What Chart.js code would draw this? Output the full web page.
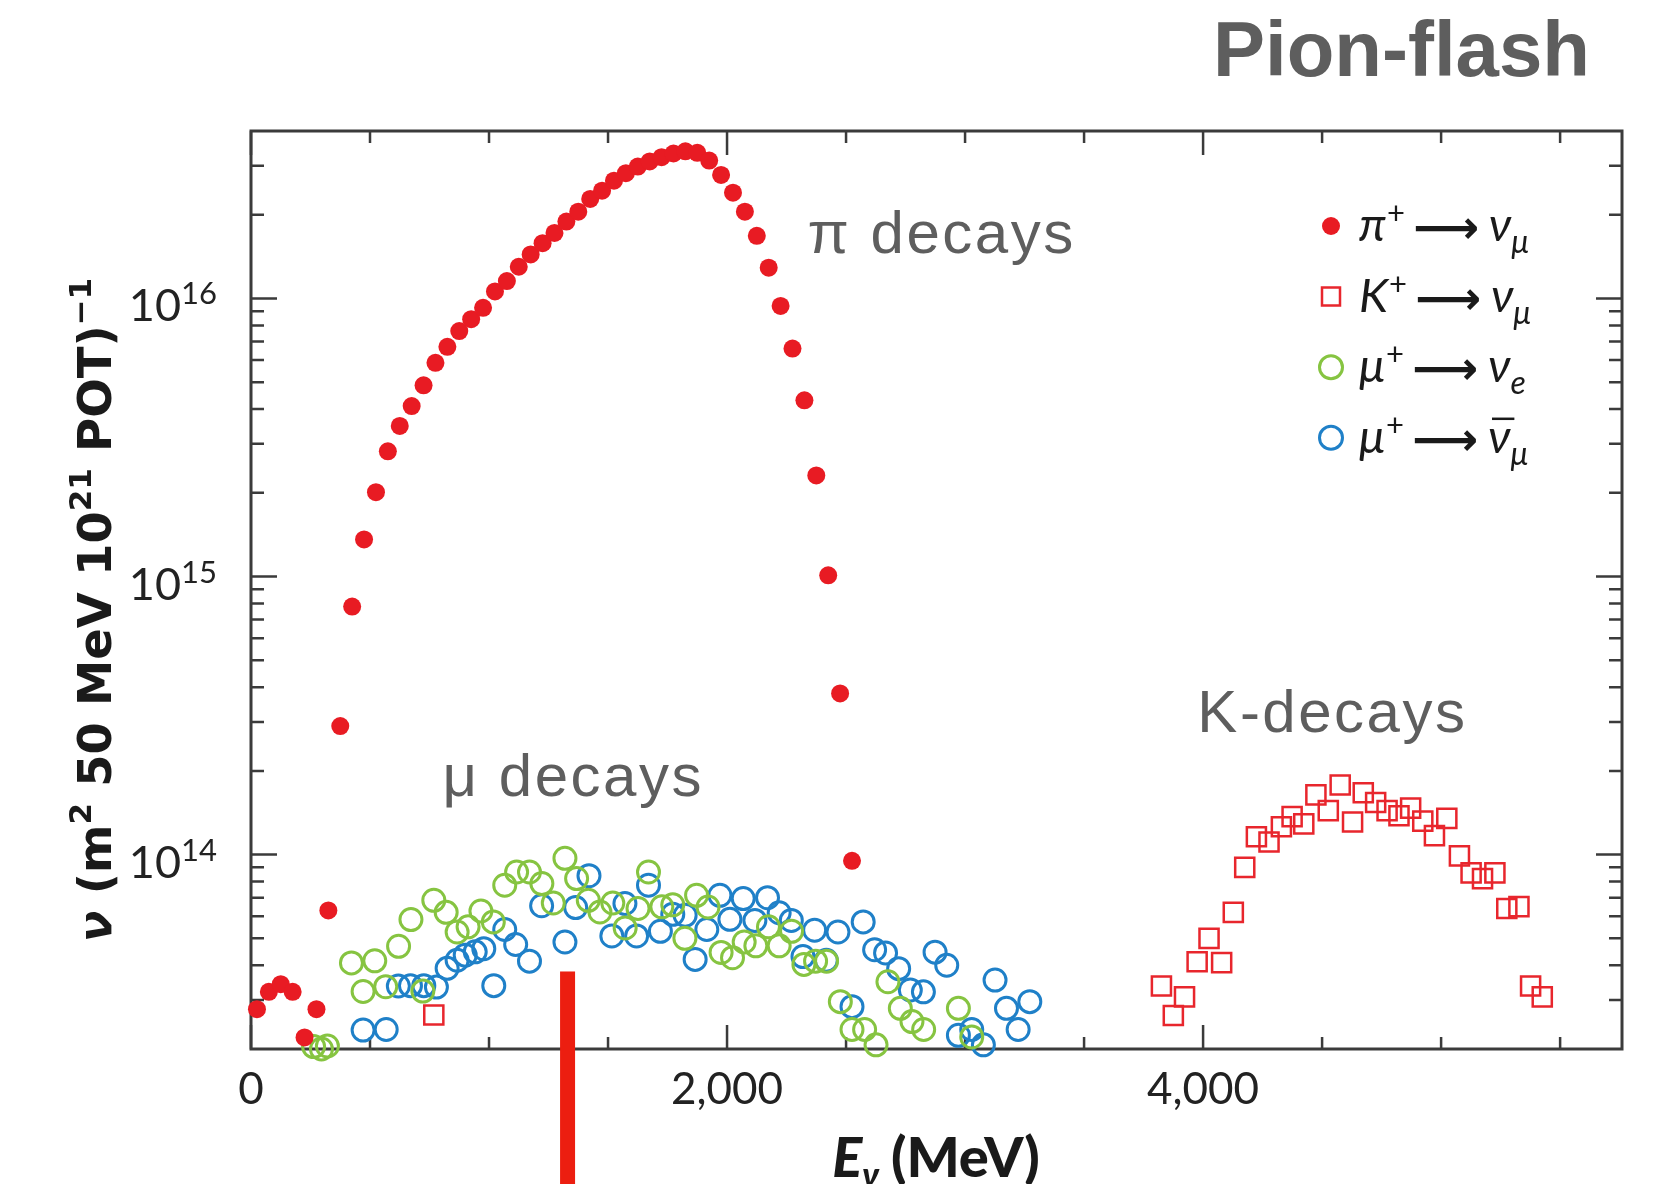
<!DOCTYPE html>
<html>
<head>
<meta charset="utf-8">
<script src="https://cdn.jsdelivr.net/npm/chart.js@4"></script>
<style>
  html, body { margin: 0; padding: 0; background: #fff; }
  #wrap { width: 1659px; height: 1184px; position: relative; }
</style>
</head>
<body>
<div id="wrap"><canvas id="chart"></canvas></div>
<script>
// pi+ -> nu_mu (filled dots), 50 MeV bins
const piEnergy = [25, 75, 125, 175, 225, 275, 325, 375, 425, 475, 525, 575, 625, 675, 725, 775, 825, 875, 925, 975,
  1025, 1075, 1125, 1175, 1225, 1275, 1325, 1375, 1425, 1475, 1525, 1575, 1625, 1675, 1725, 1775, 1825, 1875, 1925, 1975,
  2025, 2075, 2125, 2175, 2225, 2275, 2325, 2375, 2425, 2475, 2525];
const piFlux = [2.78e13, 3.21e13, 3.42e13, 3.21e13, 2.2e13, 2.78e13, 6.3e13, 2.9e14, 7.8e14, 1.36e15, 2.01e15, 2.82e15,
  3.48e15, 4.1e15, 4.87e15, 5.87e15, 6.7e15, 7.63e15, 8.42e15, 9.25e15, 1.06e16, 1.155e16, 1.3e16, 1.44e16, 1.58e16,
  1.72e16, 1.89e16, 2.05e16, 2.28e16, 2.44e16, 2.65e16, 2.82e16, 2.98e16, 3.11e16, 3.22e16, 3.32e16, 3.38e16, 3.34e16,
  3.13e16, 2.78e16, 2.4e16, 2.05e16, 1.68e16, 1.29e16, 9.4e15, 6.6e15, 4.3e15, 2.31e15, 1.01e15, 3.8e14, 9.5e13];

// K+ -> nu_mu (open squares)
const kEnergy = [768, 3825, 3875, 3922, 3975, 4025, 4078, 4127, 4175, 4224, 4277, 4329, 4374, 4423, 4474, 4526, 4576,
  4628, 4673, 4725, 4773, 4823, 4872, 4923, 4972, 5024, 5077, 5126, 5174, 5226, 5276, 5327, 5376, 5425];
const kFlux = [2.65e13, 3.37e13, 2.64e13, 3.08e13, 4.12e13, 5.0e13, 4.09e13, 6.2e13, 9.0e13, 1.16e14, 1.11e14, 1.26e14,
  1.37e14, 1.29e14, 1.64e14, 1.44e14, 1.78e14, 1.31e14, 1.67e14, 1.54e14, 1.44e14, 1.38e14, 1.47e14, 1.32e14, 1.17e14,
  1.35e14, 9.9e13, 8.6e13, 8.2e13, 8.6e13, 6.4e13, 6.5e13, 3.37e13, 3.08e13];

// mu+ -> nu_e (green open circles)
const muNueEnergy = [263, 296, 321, 422, 471, 520, 566, 620, 672, 722, 768, 820, 866, 912, 966, 1018, 1066, 1116, 1170,
  1222, 1270, 1319, 1368, 1417, 1466, 1520, 1572, 1626, 1670, 1726, 1772, 1823, 1872, 1920, 1975, 2023, 2072, 2121, 2174,
  2219, 2271, 2323, 2372, 2418, 2476, 2525, 2578, 2626, 2676, 2728, 2777, 2826, 2972, 3028];
const muNueFlux = [2.04e13, 2.0e13, 2.05e13, 4.08e13, 3.22e13, 4.15e13, 3.35e13, 4.68e13, 5.84e13, 3.23e13, 6.85e13,
  6.2e13, 5.27e13, 5.5e13, 6.27e13, 5.73e13, 7.76e13, 8.66e13, 8.66e13, 7.87e13, 6.7e13, 9.7e13, 8.2e13, 6.85e13, 6.22e13,
  6.7e13, 5.45e13, 6.4e13, 8.66e13, 6.49e13, 6.6e13, 5.0e13, 7.14e13, 6.48e13, 4.45e13, 4.26e13, 4.85e13, 4.7e13, 5.5e13,
  4.7e13, 5.3e13, 4.03e13, 4.14e13, 4.14e13, 2.96e13, 2.35e13, 2.35e13, 2.07e13, 3.49e13, 2.8e13, 2.51e13, 2.35e13,
  2.8e13, 2.21e13];

// mu+ -> anti nu_mu (blue open circles)
const muNumuEnergy = [471, 568, 619, 670, 726, 779, 824, 866, 900, 942, 978, 1020, 1066, 1112, 1170, 1221, 1319, 1364,
  1420, 1516, 1571, 1620, 1670, 1720, 1772, 1824, 1866, 1915, 1970, 2012, 2068, 2117, 2170, 2219, 2270, 2319, 2368, 2417,
  2466, 2525, 2572, 2620, 2666, 2721, 2770, 2825, 2874, 2923, 2972, 3028, 3077, 3126, 3174, 3223, 3272];
const muNumuFlux = [2.34e13, 2.35e13, 3.37e13, 3.38e13, 3.38e13, 3.34e13, 3.9e13, 4.17e13, 4.35e13, 4.47e13, 4.59e13,
  3.38e13, 5.38e13, 4.75e13, 4.14e13, 6.55e13, 4.85e13, 6.45e13, 8.4e13, 5.1e13, 6.67e13, 5.1e13, 7.76e13, 5.3e13, 6.1e13,
  6.05e13, 4.2e13, 5.38e13, 7.14e13, 5.85e13, 6.95e13, 5.8e13, 7.0e13, 6.18e13, 5.8e13, 4.3e13, 5.35e13, 4.17e13, 5.27e13,
  2.84e13, 5.73e13, 4.55e13, 4.43e13, 3.89e13, 3.26e13, 3.21e13, 4.46e13, 4.0e13, 2.24e13, 2.35e13, 2.07e13, 3.54e13,
  2.8e13, 2.35e13, 2.96e13];

// axis ticks
const xTicks = [0, 500, 1000, 1500, 2000, 2500, 3000, 3500, 4000, 4500, 5000, 5500];
const xLabelValues = [0, 2000, 4000];
const xLabels = ['0', '2,000', '4,000'];
const yDecades = [14, 15, 16];

// annotations (anchored in data space)
const notes = [
  { text: 'π decays', x: 2338, y: 1.46e16 },
  { text: 'μ decays', x: 805, y: 1.62e14 },
  { text: 'K-decays', x: 3976, y: 2.75e14 }
];
const markerE = 1330, markerTop = 3.8e13;

const RED = '#e81b23', SQ = '#e8262d', GREEN = '#86c441', BLUE = '#1f80c8';
const AXIS = '#3b3b3b', GREY = '#5e5e5e', BAR = '#ec1e10', INK = '#1a1a1a';

const pts = (xs, ys) => xs.map((v, i) => ({ x: v, y: ys[i] }));

// draw a row of text pieces: [text, font, dy, gapAfter]
function runs(ctx, list, x, y, align) {
  let w = 0;
  for (const r of list) { ctx.font = r[1]; w += ctx.measureText(r[0]).width + (r[3] || 0); }
  let cx = align === 'right' ? x - w : align === 'center' ? x - w / 2 : x;
  const pos = [];
  for (const r of list) {
    ctx.font = r[1];
    ctx.fillText(r[0], cx, y + (r[2] || 0));
    const rw = ctx.measureText(r[0]).width;
    pos.push([cx, rw]);
    cx += rw + (r[3] || 0);
  }
  return pos;
}

function yTitleRuns(size) {
  const fam = '"DejaVu Sans"';
  const B = `bold ${size}px ${fam}`, S = `bold ${Math.round(size * 0.66)}px ${fam}`, up = -size * 0.42;
  return [['ν', `italic bold ${size}px ${fam}`], [' (m', B], ['2', S, up], [' 50 MeV 10', B], ['21', S, up],
    [' POT)', B], ['−1', S, up]];
}

const framePlugin = {
  id: 'frame',
  beforeDatasetsDraw(chart) {
    const { ctx, chartArea: a, scales: { x, y } } = chart;
    ctx.save();
    ctx.strokeStyle = AXIS;
    ctx.lineWidth = 2.5;
    ctx.beginPath();
    for (const v of xTicks) {
      const px = x.getPixelForValue(v);
      const len = xLabelValues.includes(v) ? 24 : 12;
      ctx.moveTo(px, a.bottom); ctx.lineTo(px, a.bottom - len);
      ctx.moveTo(px, a.top); ctx.lineTo(px, a.top + len);
    }
    for (let d = 13; d <= 16; d++) {
      for (let m = 1; m <= 9; m++) {
        const v = m * Math.pow(10, d);
        if (v <= y.min * 1.001 || v >= y.max * 0.999) continue;
        const py = y.getPixelForValue(v);
        const len = m === 1 ? 26 : 13;
        ctx.moveTo(a.left, py); ctx.lineTo(a.left + len, py);
        ctx.moveTo(a.right, py); ctx.lineTo(a.right - len, py);
      }
    }
    ctx.stroke();
    ctx.lineWidth = 3;
    ctx.strokeRect(a.left, a.top, a.width, a.height);

    // tick labels
    ctx.fillStyle = '#222';
    ctx.textAlign = 'left';
    ctx.textBaseline = 'alphabetic';
    xLabelValues.forEach((v, i) => {
      runs(ctx, [[xLabels[i], '44px Lato']], x.getPixelForValue(v), a.bottom + 55, 'center');
    });
    for (const d of yDecades) {
      const py = y.getPixelForValue(Math.pow(10, d));
      runs(ctx, [['10', '45px Lato', 23], [String(d), '31px Lato', 6]], a.left - 34, py, 'right');
    }

    // axis titles
    ctx.fillStyle = INK;
    runs(ctx, [['E', 'italic 900 56px Lato'], ['ν', 'italic 900 34px Lato', 10, 12], ['(MeV)', '900 56px Lato']],
      936, 1177, 'center');
    ctx.save();
    ctx.translate(111, 610);
    ctx.rotate(-Math.PI / 2);
    // size the rotated title to the reference length
    let probe = 0;
    for (const r of yTitleRuns(40)) { ctx.font = r[1]; probe += ctx.measureText(r[0]).width; }
    const size = Math.round(40 * 662 / probe * 10) / 10;
    runs(ctx, yTitleRuns(size), 0, 0, 'center');
    ctx.restore();
    ctx.restore();
  },
  afterDatasetsDraw(chart) {
    const { ctx, scales: { x, y } } = chart;
    ctx.save();
    // red marker bar
    const cx = x.getPixelForValue(markerE);
    const top = y.getPixelForValue(markerTop);
    ctx.fillStyle = BAR;
    ctx.fillRect(cx - 7.5, top, 15, chart.height - top);

    // annotations
    ctx.fillStyle = GREY;
    ctx.textAlign = 'left';
    ctx.font = '60px "Liberation Sans", Arial, sans-serif';
    if ('letterSpacing' in ctx) ctx.letterSpacing = '2.5px';
    for (const n of notes) ctx.fillText(n.text, x.getPixelForValue(n.x), y.getPixelForValue(n.y));
    if ('letterSpacing' in ctx) ctx.letterSpacing = '0px';

    // title
    ctx.font = 'bold 78px "Liberation Sans", Arial, sans-serif';
    ctx.textAlign = 'right';
    ctx.fillText('Pion-flash', 1590, 76);
    ctx.textAlign = 'left';

    // legend
    const rows = [
      { ds: 0, lhs: 'π', sub: 'μ', bar: false },
      { ds: 1, lhs: 'K', sub: 'μ', bar: false },
      { ds: 2, lhs: 'μ', sub: 'e', bar: false },
      { ds: 3, lhs: 'μ', sub: 'μ', bar: true }
    ];
    const I = 'italic 47px Lato', SUP = '31px Lato', SUBF = 'italic 32px Lato';
    rows.forEach((r, i) => {
      const yc = 226 + i * 70.6;
      const ds = chart.data.datasets[r.ds];
      ctx.lineWidth = ds.pointBorderWidth;
      ctx.strokeStyle = ds.borderColor;
      ctx.fillStyle = ds.backgroundColor;
      ctx.beginPath();
      if (ds.pointStyle === 'rect') {
        ctx.rect(1331 - 9, yc - 9, 18, 18);
      } else {
        ctx.arc(1331, yc, ds.pointBorderWidth === 0 ? ds.pointRadius : 11.5, 0, Math.PI * 2);
      }
      ctx.fill();
      if (ds.pointBorderWidth > 0) ctx.stroke();
      ctx.fillStyle = INK;
      const pos = runs(ctx, [[r.lhs, I, 0, 1], ['+', SUP, -17, 8], ['⟶', 'bold 46px "DejaVu Sans"', 2, 10], ['ν', I],
        [r.sub, SUBF, 12]], 1359, yc + 15, 'left');
      if (r.bar) {
        ctx.strokeStyle = INK;
        ctx.lineWidth = 2.5;
        ctx.beginPath();
        ctx.moveTo(pos[3][0] + 4, yc - 19);
        ctx.lineTo(pos[3][0] + pos[3][1] + 4, yc - 19);
        ctx.stroke();
      }
    });
    ctx.restore();
  }
};

new Chart(document.getElementById('chart'), {
  type: 'scatter',
  data: {
    datasets: [
      { label: 'π+ → νμ', data: pts(piEnergy, piFlux), pointStyle: 'circle', pointRadius: 9,
        backgroundColor: RED, borderColor: RED, pointBorderWidth: 0 },
      { label: 'K+ → νμ', data: pts(kEnergy, kFlux), pointStyle: 'rect', pointRadius: 13.5,
        backgroundColor: 'rgba(0,0,0,0)', borderColor: SQ, pointBorderWidth: 2.5 },
      { label: 'μ+ → νe', data: pts(muNueEnergy, muNueFlux), pointStyle: 'circle', pointRadius: 11,
        backgroundColor: 'rgba(0,0,0,0)', borderColor: GREEN, pointBorderWidth: 3, order: 1 },
      { label: 'μ+ → ν̄μ', data: pts(muNumuEnergy, muNumuFlux), pointStyle: 'circle', pointRadius: 11,
        backgroundColor: 'rgba(0,0,0,0)', borderColor: BLUE, pointBorderWidth: 3, order: 2 }
    ]
  },
  options: {
    responsive: true,
    maintainAspectRatio: false,
    animation: false,
    clip: false,
    layout: { padding: { left: 251, right: 37, top: 131, bottom: 135 } },
    elements: { point: { hoverRadius: 0 } },
    scales: {
      x: { type: 'linear', min: 0, max: 5760, display: false },
      y: { type: 'logarithmic', min: 2e13, max: 4e16, display: false }
    },
    plugins: { legend: { display: false }, tooltip: { enabled: false } }
  },
  plugins: [framePlugin]
});
</script>
</body>
</html>
